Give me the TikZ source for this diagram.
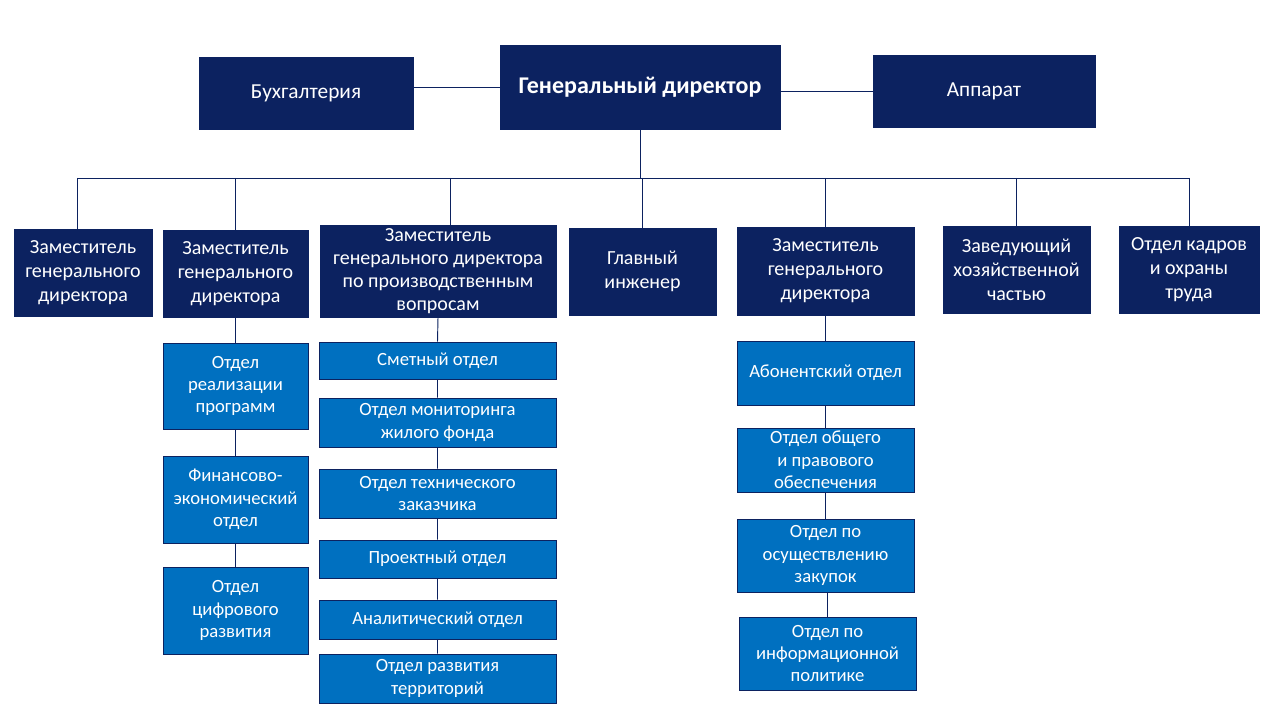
\documentclass[tikz,border=0pt]{standalone}
\usepackage{fontspec}
\setmainfont{Carlito}
\usetikzlibrary{positioning}
\definecolor{navy}{HTML}{0C2260}
\definecolor{midblue}{HTML}{0070C0}

\begin{document}
\begin{tikzpicture}[x=0.75pt,y=-0.75pt,
  every node/.style={font=\fontsize{15}{18}\selectfont, text=white, align=center, inner sep=0pt},
  topbox/.style={fill=navy, draw=navy},
  subbox/.style={fill=midblue, draw=navy, line width=0.6pt, font=\fontsize{14}{16.8}\selectfont},
  sz/.style 2 args={minimum width=#1*0.75pt, minimum height=#2*0.75pt},
  link/.style={draw=navy, line width=0.7pt}]
\fill[white] (0,0) rectangle (1280,720);
\useasboundingbox (0,0) rectangle (1280,720);

% top row
\node[topbox,sz={214}{72},font=\fontsize{16}{19}\selectfont] (buh) at (306,93) {Бухгалтерия};
\node[topbox,sz={280}{84},font=\bfseries\fontsize{18}{21}\selectfont] (gd) at (640,87) {Генеральный директор};
\node[topbox,sz={222}{72},font=\fontsize{16}{19}\selectfont] (app) at (984,91) {Аппарат};

% deputies and heads
\foreach \name/\x/\y/\w/\h/\txt in {
  z1/83/272.5/138/87/{Заместитель\\генерального\\директора},
  z2/235.5/273.5/145/87/{Заместитель\\генерального\\директора},
  gi/642.5/271.5/147/87/{Главный\\инженер},
  z5/825.5/271/177/88/{Заместитель\\генерального\\директора},
  zx/1016.5/269.5/147/87/{Заведующий\\хозяйственной\\частью},
  ok/1189/269.5/140/87/{Отдел кадров\\и охраны\\труда}} {
  \node[topbox,sz={\w}{\h}] (\name) at (\x,\y) {\txt};
}
\node[topbox,sz={236}{92},font=\fontsize{15}{17.2}\selectfont] (z3) at (438,271)
  {Заместитель\\генерального директора\\по производственным\\вопросам};

% departments
\foreach \name/\x/\y/\w/\h/\txt in {
  r1/235.5/386/145/86/{Отдел\\реализации\\программ},
  r2/235.5/499.5/145/87/{Финансово-\\экономический\\отдел},
  r3/235.5/610.5/145/87/{Отдел\\цифрового\\развития},
  c1/437.5/360.5/237/37/{Сметный отдел},
  c2/437.5/422.5/237/49/{Отдел мониторинга\\жилого фонда},
  c3/437.5/493.5/237/49/{Отдел технического\\заказчика},
  c4/437.5/559/237/38/{Проектный отдел},
  c5/437.5/619.5/237/39/{Аналитический отдел},
  c6/437.5/678.5/237/49/{Отдел развития\\территорий},
  a1/825.5/373/177/64/{Абонентский отдел},
  a2/825.5/460/177/64/{Отдел общего\\и правового\\обеспечения},
  a3/825.5/555.5/177/73/{Отдел по\\осуществлению\\закупок},
  a4/827.5/653.5/177/73/{Отдел по\\информационной\\политике}} {
  \node[subbox,sz={\w}{\h}] (\name) at (\x,\y) {\txt};
}

% connectors
\coordinate (bus) at (640,178);
\draw[link] (gd.west) -- (gd.west -| buh.east);
\draw[link] (app.west) -- (app.west -| gd.east);
\draw[link] (gd.south) -- (bus);
\draw[link] ([xshift=-4.5pt]z1.north |- bus) -- (ok.north |- bus);
\foreach \v in {z2,gi,z5,zx,ok}{\draw[link] (\v.north |- bus) -- (\v.north);}
\draw[link] ([xshift=-4.5pt]z1.north |- bus) -- ([xshift=-4.5pt]z1.north);
\draw[link] ([xshift=9pt]z3.north |- bus) -- ([xshift=9pt]z3.north);
\draw[link] (z2.south) -- (r1.north) (r1.south) -- (r2.north) (r2.south) -- (r3.north);
\draw[link] (z3.south) -- (c1.north) (c1.south) -- (c2.north) (c2.south) -- (c3.north)
  (c3.south) -- (c4.north) (c4.south) -- (c5.north) (c5.south) -- (c6.north);
\draw[link] (z5.south) -- (a1.north) (a1.south) -- (a2.north) (a2.south) -- (a3.north)
  (a3.south -| a4.north) -- (a4.north);
\end{tikzpicture}
\end{document}
